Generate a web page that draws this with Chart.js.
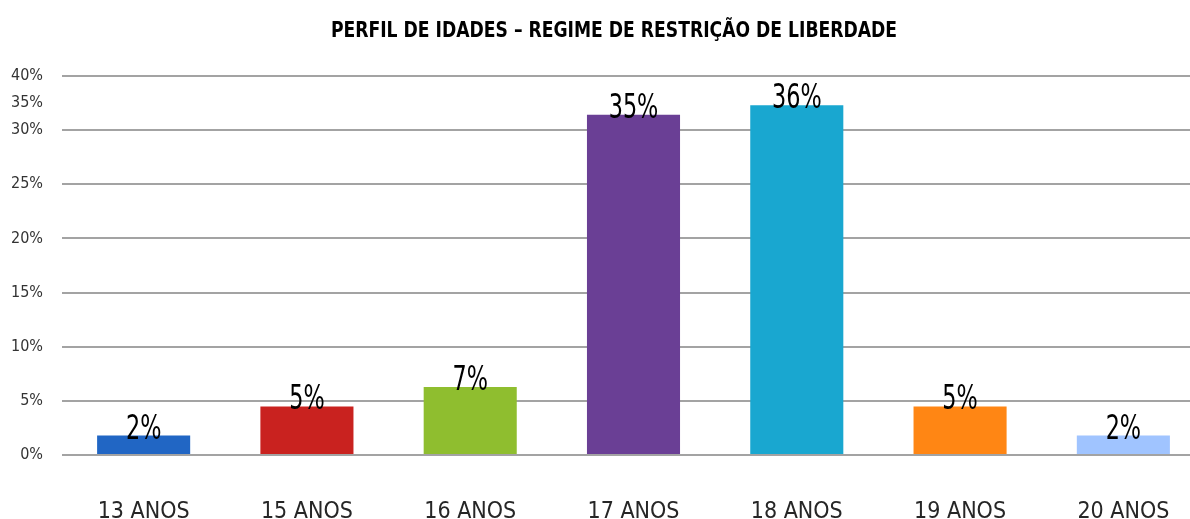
<!DOCTYPE html>
<html>
<head>
<meta charset="utf-8">
<script src="https://cdn.jsdelivr.net/npm/chart.js@4/dist/chart.umd.min.js"></script>
<style>
  body { margin: 0; background: #fff; overflow: hidden; }
</style>
</head>
<body>
<canvas id="barChart" width="1205" height="519"></canvas>
<script>
  // data
  var titleText = "PERFIL DE IDADES – REGIME DE RESTRIÇÃO DE LIBERDADE";
  var categories = ["13 ANOS", "15 ANOS", "16 ANOS", "17 ANOS", "18 ANOS", "19 ANOS", "20 ANOS"];
  var values = [2, 5, 7, 35, 36, 5, 2];
  var barColors = ["#2166c4", "#c9221f", "#8fbe2f", "#6a3f95", "#19a7d0", "#ff8614", "#a0c4ff"];
  var tickLabels = ["0%", "5%", "10%", "15%", "20%", "25%", "30%", "35%", "40%"];

  var font = "'DejaVu Sans Condensed', 'DejaVu Sans', sans-serif";
  var yMax = 39;

  // narrow text helper (the original uses a tall condensed face)
  function narrowText(c, txt, x, y, sx) {
    c.save();
    c.translate(x, y);
    c.scale(sx, 1);
    c.fillText(txt, 0, 0);
    c.restore();
  }

  // title + value labels drawn on the canvas
  var labelsPlugin = {
    id: "labels",
    afterDatasetsDraw: function (chart) {
      var c = chart.ctx;
      c.save();
      c.fillStyle = "#000";
      c.textAlign = "center";
      c.textBaseline = "alphabetic";
      c.font = "34px " + font;
      chart.getDatasetMeta(0).data.forEach(function (bar, i) {
        narrowText(c, values[i] + "%", bar.x, bar.y + 3, 0.73);
      });
      c.font = "bold 21px " + font;
      c.textBaseline = "middle";
      narrowText(c, titleText, 614, 32, 0.91);
      c.restore();
    },
  };

  var ctx = document.getElementById("barChart");

  var BarChart = new Chart(ctx, {
    type: "bar",
    data: {
      labels: categories,
      datasets: [
        {
          data: values,
          backgroundColor: barColors,
          barPercentage: 0.57,
          categoryPercentage: 1,
        },
      ],
    },
    options: {
      responsive: false,
      animation: false,
      layout: { padding: { top: 76, right: 0, bottom: 0, left: 0 } },
      plugins: {
        legend: { display: false },
        tooltip: { enabled: false },
      },
      scales: {
        x: {
          grid: { display: false },
          border: { display: false },
          ticks: {
            color: "#262626",
            font: { family: font, size: 23 },
            padding: 35,
          },
          afterFit: function (scale) {
            scale.height = 64;
          },
        },
        y: {
          min: 0,
          max: yMax,
          border: { display: false },
          grid: {
            color: function (c) {
              return c.index === 7 ? "rgba(0,0,0,0)" : "#a3a3a3";
            },
            lineWidth: 2,
            drawTicks: false,
          },
          ticks: {
            autoSkip: false,
            color: "#333",
            font: { family: font, size: 16 },
            padding: 19,
            callback: function (v, i) {
              return tickLabels[i];
            },
          },
          afterBuildTicks: function (scale) {
            var step = yMax / 7;
            var t = [];
            for (var i = 0; i <= 6; i++) t.push({ value: i * step });
            t.push({ value: 6.5 * step });
            t.push({ value: yMax });
            scale.ticks = t;
          },
          afterFit: function (scale) {
            scale.width = 62;
          },
        },
      },
    },
    plugins: [labelsPlugin],
  });
</script>
</body>
</html>
